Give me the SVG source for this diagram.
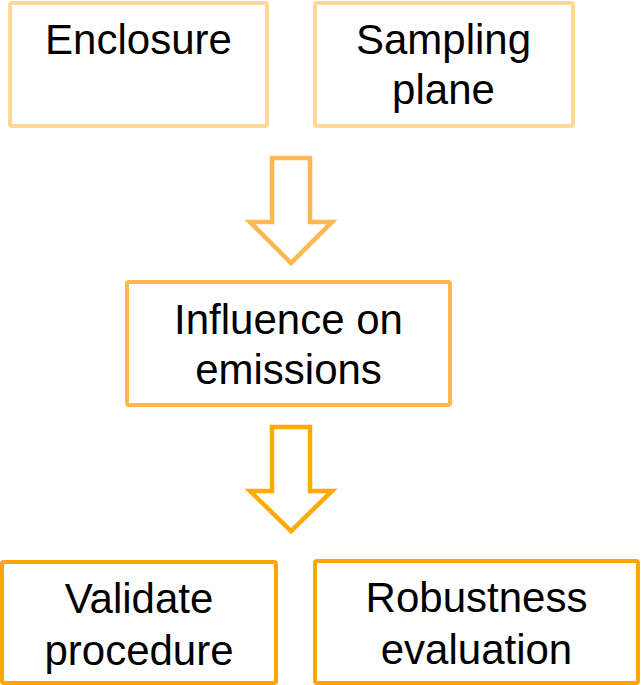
<svg xmlns="http://www.w3.org/2000/svg" width="641" height="685" viewBox="0 0 641 685">
<style>
.box{fill:#FFFFFF;stroke-width:4;}
.t{font-family:"Liberation Sans",Arial,sans-serif;font-size:42px;fill:#000000;text-anchor:middle;}
.arr{fill:#FFFFFF;stroke-width:4.5;stroke-linejoin:miter;}
</style>
<rect width="641" height="685" fill="#FFFFFF"/>
<g id="enclosure">
<rect class="box" x="10" y="3" width="257" height="123" rx="2" stroke="#FFD899"/>
<text class="t" x="138.5" y="54">Enclosure</text>
</g>
<g id="sampling-plane">
<rect class="box" x="315" y="3" width="258" height="123" rx="2" stroke="#FFD899"/>
<text class="t" x="443.5" y="54">Sampling</text>
<text class="t" x="443.5" y="104">plane</text>
</g>
<g id="influence">
<rect class="box" x="127" y="282" width="323" height="123" rx="2" stroke="#FFB84D"/>
<text class="t" x="288.5" y="334">Influence on</text>
<text class="t" x="288.5" y="384">emissions</text>
</g>
<g id="validate">
<rect class="box" x="2" y="562" width="274" height="121" rx="2" stroke="#FFA500"/>
<text class="t" x="139" y="613">Validate</text>
<text class="t" x="139" y="665">procedure</text>
</g>
<g id="robustness">
<rect class="box" x="315" y="561" width="323" height="122" rx="2" stroke="#FFA500"/>
<text class="t" x="476.5" y="612">Robustness</text>
<text class="t" x="476.5" y="664">evaluation</text>
</g>
<g id="connectors">
<polygon class="arr" stroke="#FFB84D" points="272,158 310,158 310,222 332,222 291,263 250,222 272,222"/>
<polygon class="arr" stroke="#FFAA00" points="272,427 310,427 310,491 332,491 291,531 250,491 272,491"/>
</g>
</svg>
